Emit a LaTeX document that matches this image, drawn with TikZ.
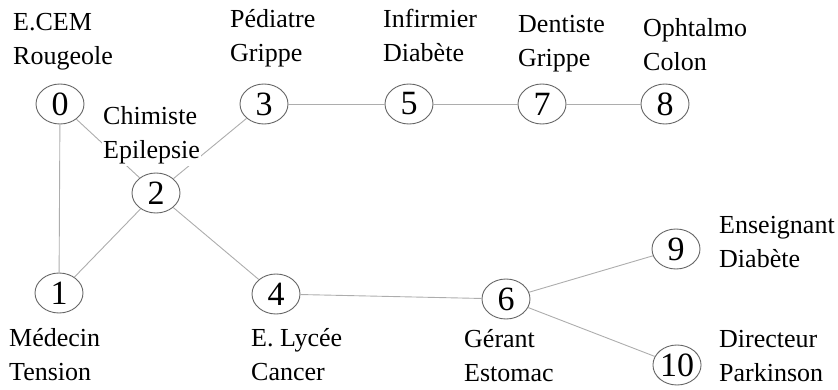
\documentclass[tikz,border=0pt]{standalone}
\usepackage{fontspec}
\setmainfont{Liberation Serif}
\usetikzlibrary{shapes.geometric}
\begin{document}
\begin{tikzpicture}[x=1pt,y=-1pt,
  vertex/.style={ellipse,draw=black!60,line width=0.9pt,fill=white,
    minimum width=48pt,minimum height=40pt,inner sep=0pt,
    font=\fontsize{34}{34}\selectfont},
  tag/.style={anchor=base west,align=left,fill=white,inner sep=1pt,
    font=\fontsize{26}{34}\selectfont},
  link/.style={draw=black!32,line width=0.9pt}]
\useasboundingbox (0,0) rectangle (838,390);

% vertices
\node[vertex] (n0) at (60,104) {0};
\node[vertex] (n1) at (59,293) {1};
\node[vertex] (n2) at (156,193) {2};
\node[vertex] (n3) at (264,104) {3};
\node[vertex] (n5) at (409,104) {5};
\node[vertex] (n7) at (542,104) {7};
\node[vertex] (n8) at (665,104) {8};
\node[vertex] (n4) at (276,294) {4};
\node[vertex] (n6) at (506,299) {6};
\node[vertex] (n9) at (676,249) {9};
\node[vertex] (n10) at (677,365) {10};

% edges
\draw[link] (n0) -- (n1);
\draw[link] (n0) -- (n2);
\draw[link] (n1) -- (n2);
\draw[link] (n2) -- (n3);
\draw[link] (n2) -- (n4);
\draw[link] (n3) -- (n5);
\draw[link] (n5) -- (n7);
\draw[link] (n7) -- (n8);
\draw[link] (n4) -- (n6);
\draw[link] (n6) -- (n9);
\draw[link] (n6) -- (n10);

% labels: profession and illness (anchored on the baseline of the second line)
\node[tag] (t0) at (12,65) {E.CEM\\Rougeole};
\node[tag] (t2) at (102,159) {Chimiste\\Epilepsie};
\node[tag] (t3) at (229,62) {Pédiatre\\Grippe};
\node[tag] (t5) at (382,62) {Infirmier\\Diabète};
\node[tag] (t7) at (517,67) {Dentiste\\Grippe};
\node[tag] (t8) at (642,71) {Ophtalmo\\Colon};
\node[tag] (t1) at (8,380) {Médecin\\Tension};
\node[tag] (t4) at (250,380) {E. Lycée\\Cancer};
\node[tag] (t6) at (463,381) {Gérant\\Estomac};
\node[tag] (t9) at (718,267) {Enseignant\\Diabète};
\node[tag] (t10) at (718,381) {Directeur\\Parkinson};
\end{tikzpicture}
\end{document}
